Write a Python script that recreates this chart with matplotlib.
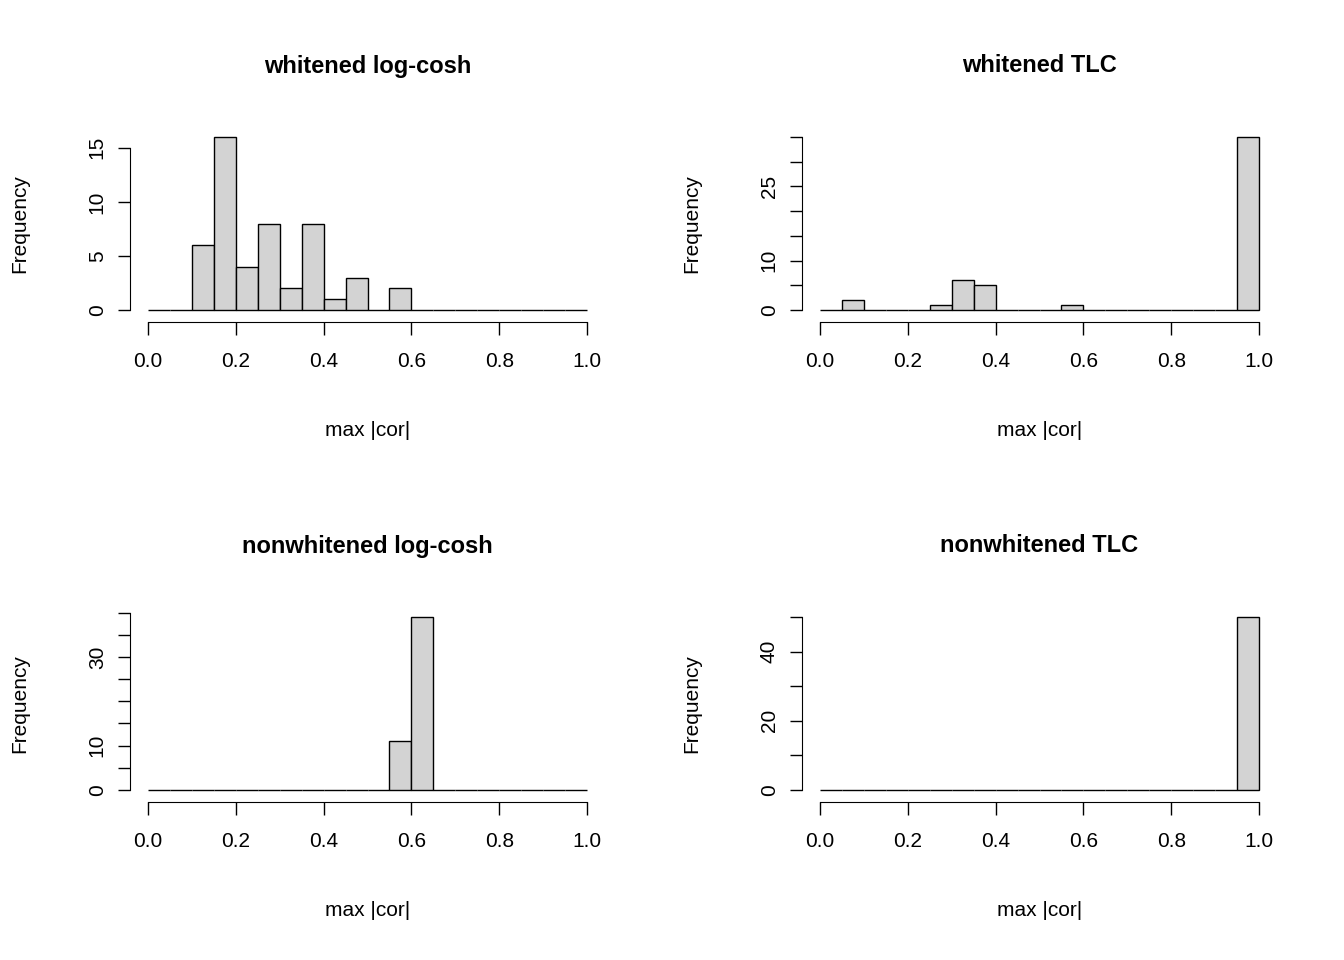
import numpy as np
import matplotlib.pyplot as plt

plt.rcParams['font.family'] = ['Liberation Sans', 'DejaVu Sans']

bin_edges = np.round(np.arange(0, 1.0, 0.05), 2)
titles = ['whitened log-cosh', 'whitened TLC', 'nonwhitened log-cosh', 'nonwhitened TLC']
counts_wl = [0, 0, 6, 16, 4, 8, 2, 8, 1, 3, 0, 2, 0, 0, 0, 0, 0, 0, 0, 0]
counts_wt = [0, 2, 0, 0, 0, 1, 6, 5, 0, 0, 0, 1, 0, 0, 0, 0, 0, 0, 0, 35]
counts_nl = [0, 0, 0, 0, 0, 0, 0, 0, 0, 0, 0, 11, 39, 0, 0, 0, 0, 0, 0, 0]
counts_nt = [0] * 19 + [50]
all_counts = [counts_wl, counts_wt, counts_nl, counts_nt]
yticks = [np.arange(0, 16, 5), np.arange(0, 36, 5), np.arange(0, 41, 5), np.arange(0, 51, 10)]
ylabels_shown = [[0, 5, 10, 15], [0, 10, 25], [0, 10, 30], [0, 20, 40]]

W, H = 1344, 960
fig = plt.figure(figsize=(W / 100, H / 100), dpi=100)

# pixel positions of data 0 / 1 on x and 0 / max on y
x0, x1 = [148, 820], [587, 1259]
y0 = [310, 790]
ytop = [137, 617]

for i, counts in enumerate(all_counts):
    r, c = divmod(i, 2)
    xa, xb = x0[c], x1[c]
    ya, yb = y0[r], ytop[r]
    unit_w = xb - xa
    unit_h = ya - yb
    left = xa - 0.04 * unit_w
    bottom = ya + 0.04 * unit_h
    ax = fig.add_axes([left / W, 1 - bottom / H, 1.08 * unit_w / W, 1.08 * unit_h / H])
    ymax = max(counts)
    ax.bar(bin_edges, counts, width=0.05, align='edge', color='#d3d3d3',
           edgecolor='black', linewidth=1.0)
    ax.set_xlim(-0.04, 1.04)
    ax.set_ylim(-0.04 * ymax, 1.04 * ymax)
    for s in ['top', 'right']:
        ax.spines[s].set_visible(False)
    ax.spines['bottom'].set_position(('outward', 4))
    ax.spines['bottom'].set_bounds(0, 1)
    ax.spines['left'].set_bounds(0, yticks[i][-1])
    ax.set_xticks(np.arange(0, 1.01, 0.2))
    ax.set_xticklabels([f'{v:.1f}' for v in np.arange(0, 1.01, 0.2)])
    ax.set_yticks(yticks[i])
    ax.set_yticklabels([str(v) if v in ylabels_shown[i] else '' for v in yticks[i]],
                       rotation=90, va='center')
    ax.tick_params(labelsize=15, length=9, width=1, pad=12)
    ax.tick_params(axis='y', pad=8)
    fig.text((xa + xb) / 2 / W, 1 - (66 + 480 * r) / H, titles[i],
             ha='center', va='center', fontsize=17, fontweight='bold')
    fig.text((xa + xb) / 2 / W, 1 - (430 + 480 * r) / H, 'max |cor|',
             ha='center', va='center', fontsize=15)
    fig.text(20 / W + c * 672 / W, 1 - (224 + 480 * r) / H, 'Frequency',
             rotation=90, ha='center', va='center', fontsize=15)

fig.savefig('out.png', dpi=100)
